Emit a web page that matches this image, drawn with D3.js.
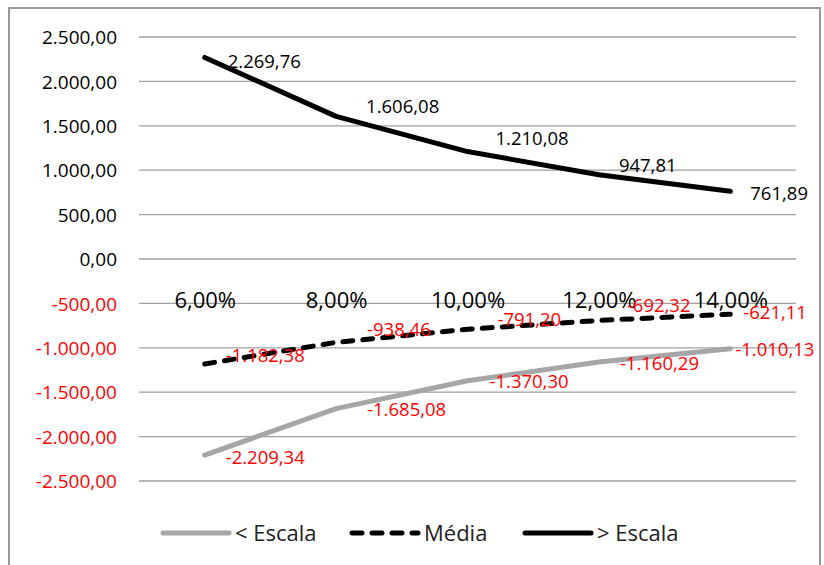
<!DOCTYPE html>
<html>
<head>
<meta charset="utf-8">
<script src="https://cdn.jsdelivr.net/npm/d3@7"></script>
<style>
  html, body { margin: 0; padding: 0; background: #fff; }
  svg { display: block; }
</style>
</head>
<body>
<svg id="chart" width="824" height="565"></svg>
<script>
// ---- data ----
const categories = ["6,00%", "8,00%", "10,00%", "12,00%", "14,00%"];
const seriesNames = ["< Escala", "Média", "> Escala"];
const menorEscala = [-2209.34, -1685.08, -1370.30, -1160.29, -1010.13];
const media = [-1182.38, -938.46, -791.20, -692.32, -621.11];
const maiorEscala = [2269.76, 1606.08, 1210.08, 947.81, 761.89];
const yTicks = [2500, 2000, 1500, 1000, 500, 0, -500, -1000, -1500, -2000, -2500];

// label offsets (layout only) [dx, dy] from each point
const offMenor = [[21, 2], [31, 1], [22, 1], [21, 1], [5, 1]];
const offMedia = [[21, -8], [31, -13], [30, -10], [28, -15], [13, -2]];
const offMaior = [[23, 4], [30, -10], [28, -13], [20, -9], [20, 2]];

// ---- setup ----
const svg = d3.select("#chart");
const W = 824, H = 565;
const locale = d3.formatLocale({decimal: ",", thousands: ".", grouping: [3], currency: ["", ""], minus: "-"});
const fmt = locale.format(",.2f");

const x = d3.scalePoint().domain(categories).range([139, 796]).padding(0.5);
const y = d3.scaleLinear().domain([-2500, 2500]).range([481, 37]);

// outer border
svg.append("rect").attr("x", 9).attr("y", 8).attr("width", 811).attr("height", 570)
  .attr("fill", "#fff").attr("stroke", "#999").attr("stroke-width", 2);

// gridlines
svg.append("g").selectAll("line").data(yTicks).join("line")
  .attr("x1", 139).attr("x2", 796)
  .attr("y1", d => y(d)).attr("y2", d => y(d))
  .attr("stroke", "#a0a0a0").attr("stroke-width", 1.3);

// y axis labels
const yAxis = d3.axisLeft(y).tickValues(yTicks).tickFormat(fmt).tickSize(0).tickPadding(0);
const gy = svg.append("g").attr("transform", "translate(117,0)").call(yAxis);
gy.select(".domain").remove();
gy.selectAll("text")
  .attr("font-family", "'Open Sans', sans-serif").attr("font-size", 19)
  .attr("fill", d => d < 0 ? "#ff0000" : "#000")
  .attr("dy", "0.35em");

// category labels
const xAxis = d3.axisBottom(x).tickSize(0).tickPadding(0);
const gx = svg.append("g").attr("transform", "translate(0,300)").call(xAxis);
gx.select(".domain").remove();
gx.selectAll("text")
  .attr("font-family", "'Open Sans', sans-serif").attr("font-size", 22)
  .attr("fill", "#000").attr("dy", "0.35em").attr("y", 0);

// lines
const line = d3.line().x((d, i) => x(categories[i])).y(d => y(d));
const styles = [
  {data: menorEscala, color: "#a6a6a6", dash: null, off: offMenor, labelColor: "#ff0000"},
  {data: media, color: "#000", dash: "10,10", off: offMedia, labelColor: "#ff0000"},
  {data: maiorEscala, color: "#000", dash: null, off: offMaior, labelColor: "#000"}
];
styles.forEach(s => {
  svg.append("path").datum(s.data).attr("d", line)
    .attr("fill", "none").attr("stroke", s.color).attr("stroke-width", 5)
    .attr("stroke-linecap", "round").attr("stroke-linejoin", "round")
    .attr("stroke-dasharray", s.dash);
});
styles.forEach(s => {
  svg.append("g").selectAll("text").data(s.data).join("text")
    .attr("x", (d, i) => x(categories[i]) + s.off[i][0])
    .attr("y", (d, i) => y(d) + s.off[i][1])
    .attr("dy", "0.35em")
    .attr("font-family", "'Open Sans', sans-serif").attr("font-size", 18.5)
    .attr("fill", s.labelColor)
    .text(d => fmt(d));
});

// legend
const legendX = [161, 350, 523];
const lg = svg.append("g");
styles.forEach((s, i) => {
  lg.append("line").attr("x1", legendX[i] + 2).attr("x2", legendX[i] + 68)
    .attr("y1", 533).attr("y2", 533)
    .attr("stroke", s.color).attr("stroke-width", 5).attr("stroke-linecap", "round")
    .attr("stroke-dasharray", s.dash);
  lg.append("text").attr("x", legendX[i] + 74).attr("y", 533).attr("dy", "0.35em")
    .attr("font-family", "'Open Sans', sans-serif").attr("font-size", 22)
    .attr("fill", "#222").text(seriesNames[i]);
});
</script>
</body>
</html>
